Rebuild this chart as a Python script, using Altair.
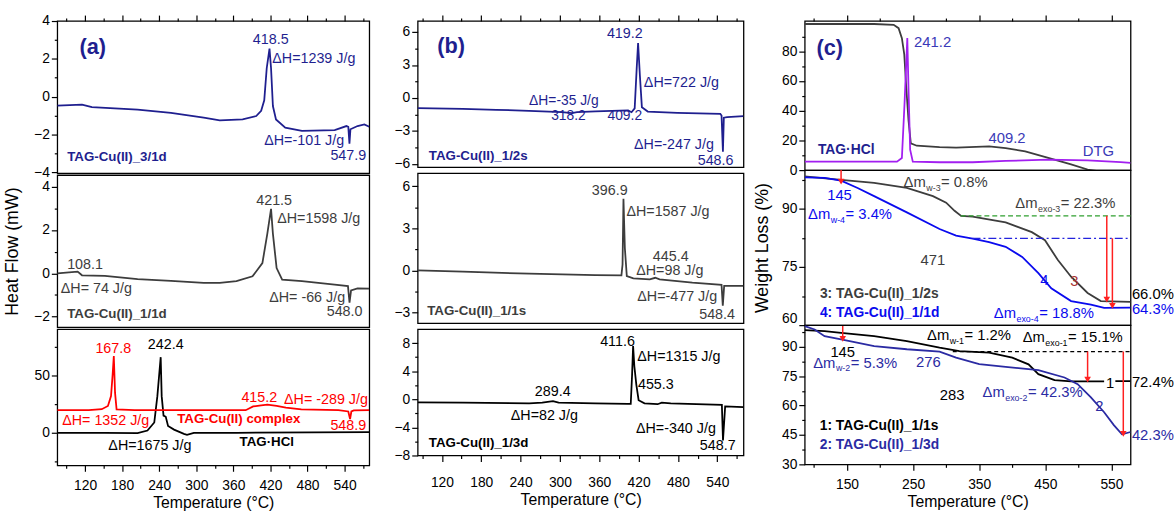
import altair as alt
import pandas as pd

FONT = "Liberation Sans"
NAVY = "#1f1f8f"
GRAY = "#3d3d3d"
BLACK = "#000000"
RED = "#ff0000"
BLUE = "#0a0aee"
NAVY2 = "#2b2ba3"
VIOLET = "#a21ff0"
CBLUE = "#3a3ab8"
DKRED = "#a83232"
GREEN = "#2f9f2f"
ARROW = "#ff2020"

# ---------------- data: panel (a) ----------------
A1_T = [75, 115, 131, 205, 259, 312, 338, 375, 397, 405, 410, 414, 418.5, 421, 424, 429, 444, 471, 524, 543, 546, 547.9, 549.5, 561, 572, 580]
A1_V = [-0.48, -0.43, -0.56, -0.69, -0.86, -1.12, -1.26, -1.21, -1.03, -0.75, -0.2, 1.5, 2.54, 1.5, -0.5, -1.21, -1.64, -1.82, -1.78, -1.56, -1.6, -2.5, -1.73, -1.56, -1.47, -1.6]
A2_T = [75, 108, 115, 152, 205, 259, 312, 338, 365, 391, 407, 415, 421, 424, 430, 439, 471, 524, 545.5, 548, 550.5, 561, 580]
A2_V = [0.0, 0.08, -0.09, -0.12, -0.27, -0.35, -0.44, -0.44, -0.36, -0.14, 0.47, 1.83, 2.97, 1.83, 0.24, -0.29, -0.36, -0.52, -0.59, -1.35, -0.79, -0.7, -0.71]
A3R_T = [75, 126, 147, 157, 162, 164.5, 166.5, 168.5, 171, 200, 380, 392, 405, 415, 430, 445, 470, 530, 546, 548.9, 551, 555, 580]
A3R_V = [19.7, 19.7, 20.6, 23.4, 32, 50, 67, 35, 20.5, 19.7, 19.7, 23, 24, 24.5, 23.5, 22, 20.5, 19.7, 18.6, 12, 18.6, 19.5, 19.8]
A3K_T = [75, 152, 205, 221, 232, 237, 242.4, 244, 247, 250.6, 254.3, 264, 280, 285, 296, 365, 580]
A3K_V = [0, 0, -0.3, 2, 9, 32, 66, 32, 15, 14, 6, 2.8, -0.9, -1.7, 0, 0, 0.6]

# ---------------- data: panel (b) ----------------
B1_T = [83, 152, 203, 253, 303, 318.2, 326, 354, 404, 409.2, 414, 417, 419.2, 422, 425, 434, 479, 544.6, 546.5, 548.6, 550, 555, 580]
B1_V = [-0.93, -1.0, -1.08, -1.17, -1.3, -1.39, -1.3, -1.23, -1.14, -1.3, -0.95, 2.6, 5.0, 2.0, -0.84, -1.24, -1.36, -1.45, -1.6, -4.9, -1.8, -1.75, -1.66]
B2_T = [83, 152, 253, 354, 393.8, 395.5, 396.9, 399, 402, 412, 437, 445.4, 452, 502, 546.5, 548.4, 550.5, 580]
B2_V = [0.0, -0.09, -0.23, -0.33, -0.35, 0.42, 5.1, 1.6, -0.4, -0.56, -0.63, -0.52, -0.63, -0.87, -1.03, -2.5, -1.1, -1.1]
B3_T = [83, 152, 253, 273, 289.4, 298, 354, 404, 408, 410, 411.6, 413.5, 416.5, 420, 429, 449, 455.3, 469, 547, 548.7, 552, 580]
B3_V = [-0.44, -0.48, -0.57, -0.48, -0.26, -0.48, -0.57, -0.66, -0.66, 3.4, 7.6, 4.7, 2.1, -0.13, -0.57, -0.7, -0.48, -0.57, -0.79, -5.86, -1.0, -1.1]

# ---------------- data: panel (c) ----------------
C1K_T = [86, 191, 220.6, 228, 233, 236.6, 239.6, 243, 246.5, 255.5, 290, 315, 365, 390, 419.6, 454.5, 489, 514, 534]
C1K_V = [98.3, 98.3, 97.7, 95.5, 88.8, 77.8, 55.7, 33.6, 18, 16.4, 15.5, 15.2, 15.9, 14.8, 12.6, 8.2, 3.8, 0.4, -1]
C1P_T = [86, 225.6, 233, 237, 241.2, 243, 245.5, 249.5, 290, 340, 390, 454.5, 514, 564, 579]
C1P_V = [5.7, 5.7, 8.2, 44.6, 88.8, 55, 13.7, 5.7, 5.3, 5.3, 6.2, 7.0, 6.6, 5.3, 4.9]
C2G_T = [86, 141, 191, 240.5, 280, 300, 312.7, 322.6, 340, 390, 429.6, 449.5, 469, 489, 514, 534, 579]
C2G_V = [98.4, 97.5, 96.7, 95.4, 93.3, 91.6, 89.5, 88.2, 88.0, 86.5, 84.0, 81.9, 76.8, 72.5, 68.3, 66.2, 66.0]
C2B_T = [86, 116, 141, 166, 191, 240.5, 290, 315, 340, 365, 390, 415, 439.5, 459, 489, 519, 539, 579]
C2B_V = [98.1, 98.0, 97.3, 95.4, 93.3, 89.1, 84.8, 83.1, 82.3, 81.4, 80.2, 77.6, 73.4, 69.5, 66.2, 65.3, 64.45, 64.5]
C3K_T = [86, 116, 141, 191, 240.5, 290, 320, 365, 400, 424.6, 439.5, 464, 489, 539]
C3K_V = [98.4, 97.9, 97.1, 95.4, 92.9, 89.5, 87.8, 87.0, 84.4, 81.0, 76.0, 73.0, 72.3, 72.3]
C3K2_T = [556, 579]
C3K2_V = [72.4, 72.4]
C3N_T = [86, 101, 116, 141, 191, 240.5, 290, 315, 350, 390, 439.5, 479, 499, 519, 539, 554, 566, 579]
C3N_V = [100.5, 98.8, 95.4, 93.7, 90.3, 88.7, 87.5, 84.4, 81.1, 79.7, 78.0, 74.3, 70.9, 64.2, 56.6, 49.9, 45.3, 46.5]

# guide lines (T start, T end, level) and arrows (T, from, to)
C2_GUIDES = [(322, 579, 88.2, GREEN, [5, 3]), (340, 579, 82.4, "#2323dd", [8, 3, 2, 3])]
C3_GUIDES = [(310, 579, 87.5, BLACK, [4, 3])]
C2_ARROWS = [(543, 88.2, 66.6), (551.5, 82.4, 65.0), (141, 100, 97.0)]
C3_ARROWS = [(514, 87.5, 73.2), (568, 87.5, 45.6), (143.5, 100.5, 94.0)]

# annotations: (text, T, V, align, size, bold, color)
A1_TXT = [("(a)", 111, 2.62, "left", 22, True, NAVY), ("418.5", 420.5, 2.97, "center", 14.5, False, NAVY),
          ("ΔH=1239 J/g", 423, 2.0, "left", 14.5, False, NAVY), ("ΔH=-101 J/g", 410, -2.34, "left", 14.5, False, NAVY),
          ("547.9", 575, -3.16, "right", 14.5, False, NAVY), ("TAG-Cu(II)_3/1d", 91, -3.2, "left", 13.5, True, NAVY)]
A2_TXT = [("421.5", 426, 3.35, "center", 14.5, False, GRAY), ("ΔH=1598 J/g", 431, 2.52, "left", 14.5, False, GRAY),
          ("108.1", 91, 0.39, "left", 14.5, False, GRAY), ("ΔH= 74 J/g", 80.7, -0.74, "left", 14.5, False, GRAY),
          ("ΔH= -66 J/g", 418, -1.12, "left", 14.5, False, GRAY), ("548.0", 569, -1.8, "right", 14.5, False, GRAY),
          ("TAG-Cu(II)_1/1d", 91, -1.88, "left", 13.5, True, GRAY)]
A3_TXT = [("167.8", 165.7, 73.4, "center", 14.5, False, RED), ("242.4", 250.6, 76.3, "center", 14.5, False, BLACK),
          ("415.2", 402, 30.6, "center", 14.5, False, RED), ("ΔH= -289 J/g", 442, 29, "left", 14.5, False, RED),
          ("ΔH= 1352 J/g", 83, 10.6, "left", 14.5, False, RED), ("TAG-Cu(II) complex", 269, 12, "left", 13.5, True, RED),
          ("548.9", 575, 6.3, "right", 14.5, False, RED), ("TAG·HCl", 370, -8, "left", 13.5, True, BLACK),
          ("ΔH=1675 J/g", 157.7, -11.4, "left", 14.5, False, BLACK)]
B1_TXT = [("(b)", 113, 4.7, "left", 22, True, NAVY), ("419.2", 398.9, 5.8, "center", 14.5, False, NAVY),
          ("ΔH=722 J/g", 428, 1.36, "left", 14.5, False, NAVY), ("ΔH=-35 J/g", 253, -0.3, "left", 14, False, NAVY),
          ("318.2", 313, -1.68, "center", 14, False, NAVY), ("409.2", 398.9, -1.68, "center", 14, False, NAVY),
          ("ΔH=-247 J/g", 413, -4.25, "left", 14.5, False, NAVY), ("548.6", 564.7, -5.75, "right", 14.5, False, NAVY),
          ("TAG-Cu(II)_1/2s", 100, -5.27, "left", 13.5, True, NAVY)]
B2_TXT = [("396.9", 376, 5.62, "center", 14.5, False, GRAY), ("ΔH=1587 J/g", 401.4, 4.17, "left", 14.5, False, GRAY),
          ("445.4", 469, 0.94, "center", 14.5, False, GRAY), ("ΔH=98 J/g", 416.4, -0.05, "left", 14.5, False, GRAY),
          ("ΔH=-477 J/g", 418, -1.87, "left", 14.5, False, GRAY), ("548.4", 567, -3.2, "right", 14.5, False, GRAY),
          ("TAG-Cu(II)_1/1s", 97.5, -2.86, "left", 13.5, True, GRAY)]
B3_TXT = [("411.6", 387.8, 8.2, "center", 14.5, False, BLACK), ("ΔH=1315 J/g", 418, 6.0, "left", 14.5, False, BLACK),
          ("455.3", 419, 2.0, "left", 14.5, False, BLACK), ("289.4", 289, 0.97, "center", 14.5, False, BLACK),
          ("ΔH=82 J/g", 225, -2.4, "left", 14.5, False, BLACK), ("ΔH=-340 J/g", 416, -4.2, "left", 14.5, False, BLACK),
          ("548.7", 568, -6.7, "right", 14.5, False, BLACK), ("TAG-Cu(II)_1/3d", 100, -6.3, "left", 13.5, True, BLACK)]
C1_TXT = [("(c)", 103.7, 82, "left", 22, True, NAVY), ("241.2", 251.5, 86, "left", 15, False, CBLUE),
          ("409.2", 392, 21.4, "center", 15, False, CBLUE), ("TAG·HCl", 106, 13.7, "left", 14, True, NAVY),
          ("DTG", 506.7, 12.6, "left", 15, False, CBLUE)]
C2_TXT = [("145", 138.6, 93.6, "center", 15, False, BLUE), ("471", 280, 76.9, "center", 15, False, GRAY),
          ("4", 448.5, 71.7, "center", 15, False, BLUE), ("3", 494, 71.3, "center", 15, False, DKRED),
          ("3: TAG-Cu(II)_1/2s", 109, 67.9, "left", 14, True, GRAY), ("4: TAG-Cu(II)_1/1d", 109, 63.2, "left", 14, True, BLUE),
          ("66.0%", 581, 67.9, "left", 15, False, BLACK), ("64.3%", 581, 64.1, "left", 15, False, BLUE)]
C3_TXT = [("145", 143.5, 87.5, "center", 15, False, BLACK), ("276", 273, 82.4, "center", 15, False, NAVY2),
          ("283", 309, 65.5, "center", 15, False, BLACK), ("1", 548, 71.3, "center", 15, False, BLACK),
          ("72.4%", 581, 71.8, "left", 15, False, BLACK), ("2", 531.6, 59.5, "center", 15, False, NAVY2),
          ("42.3%", 581, 44.8, "left", 15, False, NAVY2), ("1: TAG-Cu(II)_1/1s", 108.7, 49.4, "left", 14, True, BLACK),
          ("2: TAG-Cu(II)_1/3d", 108.7, 39.7, "left", 14, True, NAVY2)]
# mass-loss labels with subscript: (T, V, subscript, rest, color)
C2_SUB = [(235.6, 96.9, "w-3", "= 0.8%", GRAY), (91, 88.6, "w-4", "= 3.4%", BLUE),
          (404.7, 91.6, "exo-3", "= 22.3%", GRAY), (372, 63.2, "exo-4", "= 18.8%", BLUE)]
C3_SUB = [(271, 95.9, "w-1", "= 1.2%", BLACK), (415.7, 94.9, "exo-1", "= 15.1%", BLACK),
          (98.8, 81.9, "w-2", "= 5.3%", NAVY2), (355, 66.7, "exo-2", "= 42.3%", NAVY2)]

CW = {"w": 0.722, "-": 0.333, "e": 0.556, "x": 0.5, "o": 0.556}


def text_width(s, size):
    return sum(CW.get(ch, 0.556) for ch in s) * size


def xy(T, V):
    return pd.DataFrame({"T": T, "V": V})


def tick_axis(values, test, **kw):
    return alt.Axis(values=values, labelExpr=f"({test}) ? datum.label : ''",
                    tickSize={"condition": {"test": test, "value": 6}, "value": 3},
                    domain=False, grid=False, **kw)


def panel(width, height, xdom, ydom, xaxis, yaxis, lines=(), texts=(), subs=(), arrows=(), guides=()):
    xs = alt.Scale(domain=xdom, nice=False, zero=False)
    ys = alt.Scale(domain=ydom, nice=False, zero=False)

    def X():
        return alt.X("T:Q", scale=xs, axis=xaxis)

    def Y():
        return alt.Y("V:Q", scale=ys, axis=yaxis)

    layers = []
    for T, V, color, w in lines:
        layers.append(alt.Chart(xy(T, V)).mark_line(color=color, strokeWidth=w, clip=True).encode(x=X(), y=Y()))
    for T1, T2, V, color, dash in guides:
        d = pd.DataFrame({"T": [T1], "T2": [T2], "V": [V]})
        layers.append(alt.Chart(d).mark_rule(color=color, strokeWidth=1.3, strokeDash=dash)
                      .encode(x=X(), x2="T2:Q", y=Y()))
    for T, V1, V2 in arrows:
        d = pd.DataFrame({"T": [T], "V": [V1], "V2": [V2]})
        layers.append(alt.Chart(d).mark_rule(color=ARROW, strokeWidth=1.5, clip=True).encode(x=X(), y=Y(), y2="V2:Q"))
        d2 = pd.DataFrame({"T": [T], "V": [V2]})
        layers.append(alt.Chart(d2).mark_point(shape="triangle-down", filled=True, color=ARROW, size=45, opacity=1)
                      .encode(x=X(), y=Y()))
    for txt, T, V, align, size, bold, color in texts:
        d = pd.DataFrame({"T": [T], "V": [V], "label": [txt]})
        layers.append(alt.Chart(d).mark_text(align=align, baseline="middle", font=FONT, fontSize=size,
                                             fontWeight="bold" if bold else "normal", color=color)
                      .encode(x=X(), y=Y(), text="label:N"))
    for T, V, sub, rest, color in subs:
        main_w = 22.5
        sub_w = text_width(sub, 9)
        parts = [("Δm", 0, 0, 15), (sub, main_w + 0.5, 6, 9), (rest, main_w + sub_w + 1, 0, 15)]
        for txt, dx, dy, size in parts:
            d = pd.DataFrame({"T": [T], "V": [V], "label": [txt]})
            layers.append(alt.Chart(d).mark_text(align="left", baseline="middle", font=FONT, fontSize=size,
                                                 dx=dx, dy=dy, color=color)
                          .encode(x=X(), y=Y(), text="label:N"))
    return alt.layer(*layers).properties(width=width, height=height)


XA = [75, 580]
XB = [83, 580]
XC = [86, 579]
XAB_VALUES = list(range(90, 571, 30))
XAB_TEST = "datum.value % 60 == 0"
XC_VALUES = list(range(100, 551, 50))
XC_TEST = "datum.value % 100 == 50"


def x_top(values, test):
    return tick_axis(values, test, orient="top", labels=False, title=None)


def x_bottom(values, test, lp):
    return tick_axis(values, test, title="Temperature (°C)", labelPadding=lp, titlePadding=3, titleFontSize=16)


def y_ax(values, test, title=None, tp=10, flush=False):
    kw = {"labelPadding": 2}
    if flush:
        kw["labelFlush"] = True
    if title:
        return tick_axis(values, test, title=title, titlePadding=tp, **kw)
    return tick_axis(values, test, title=None, **kw)


a1 = panel(316, 154, XA, [-4.05, 4], x_top(XAB_VALUES, XAB_TEST), y_ax(list(range(-4, 5)), "datum.value % 2 == 0"),
           lines=[(A1_T, A1_V, NAVY, 1.8)], texts=A1_TXT)
a2 = panel(316, 154, XA, [-2.48, 4.53], None, y_ax(list(range(-2, 5)), "datum.value % 2 == 0", "Heat Flow (mW)", 12),
           lines=[(A2_T, A2_V, GRAY, 1.8)], texts=A2_TXT)
a3 = panel(316, 138, XA, [-28.4, 90.5], x_bottom(XAB_VALUES, XAB_TEST, 7), y_ax([-25, 0, 25, 50, 75], "datum.value % 50 == 0"),
           lines=[(A3K_T, A3K_V, BLACK, 1.8), (A3R_T, A3R_V, RED, 1.8)], texts=A3_TXT)

b1 = panel(330, 148, XB, [-6.3, 7], x_top(XAB_VALUES, XAB_TEST), y_ax([-6, -4.5, -3, -1.5, 0, 1.5, 3, 4.5, 6], "datum.value % 3 == 0"),
           lines=[(B1_T, B1_V, NAVY, 1.8)], texts=B1_TXT)
b2 = panel(330, 152, XB, [-3.75, 6.93], None, y_ax([-3, -1.5, 0, 1.5, 3, 4.5, 6], "datum.value % 3 == 0"),
           lines=[(B2_T, B2_V, GRAY, 1.8)], texts=B2_TXT)
b3 = panel(330, 128, XB, [-8, 10], x_bottom(XAB_VALUES, XAB_TEST, 14), y_ax(list(range(-8, 9, 2)), "datum.value % 4 == 0"),
           lines=[(B3_T, B3_V, BLACK, 1.8)], texts=B3_TXT)

c1 = panel(330, 151, XC, [0, 100.3], x_top(XC_VALUES, XC_TEST), y_ax(list(range(0, 91, 10)), "datum.value % 20 == 0"),
           lines=[(C1K_T, C1K_V, GRAY, 1.8), (C1P_T, C1P_V, VIOLET, 1.8)], texts=C1_TXT)
c2 = panel(330, 157, XC, [60, 100], None,
           y_ax([60, 67.5, 75, 82.5, 90, 97.5], "datum.value % 15 == 0", "Weight Loss (%)", 10, flush=True),
           lines=[(C2G_T, C2G_V, GRAY, 1.8), (C2B_T, C2B_V, BLUE, 1.8)], texts=C2_TXT, subs=C2_SUB,
           arrows=C2_ARROWS, guides=C2_GUIDES)
c3 = panel(330, 141, XC, [30, 101], x_bottom(XC_VALUES, XC_TEST, 7), y_ax([30, 37.5, 45, 52.5, 60, 67.5, 75, 82.5, 90, 97.5], "datum.value % 15 == 0"),
           lines=[(C3K_T, C3K_V, BLACK, 1.8), (C3K2_T, C3K2_V, BLACK, 1.8), (C3N_T, C3N_V, NAVY2, 1.8)],
           texts=C3_TXT, subs=C3_SUB, arrows=C3_ARROWS, guides=C3_GUIDES)

colA = alt.vconcat(a1, a2, a3, spacing=2, bounds="flush")
colB = alt.vconcat(b1, b2, b3, spacing=6, bounds="flush")
colC = alt.vconcat(c1, c2, c3, spacing=0, bounds="flush")

chart = alt.hconcat(alt.hconcat(colA, colB, spacing=23), colC, spacing=8).properties(
    padding={"left": 3, "top": 10, "right": 0, "bottom": 0}
).configure_view(stroke="black", strokeWidth=1.3).configure_axis(
    labelFont=FONT, titleFont=FONT, labelFontSize=14, titleFontSize=18, labelColor="black",
    titleColor="black", tickColor="black", titleFontWeight="normal", tickWidth=1.2
)

chart.save("out.html", embed_options={"renderer": "svg", "actions": False})
